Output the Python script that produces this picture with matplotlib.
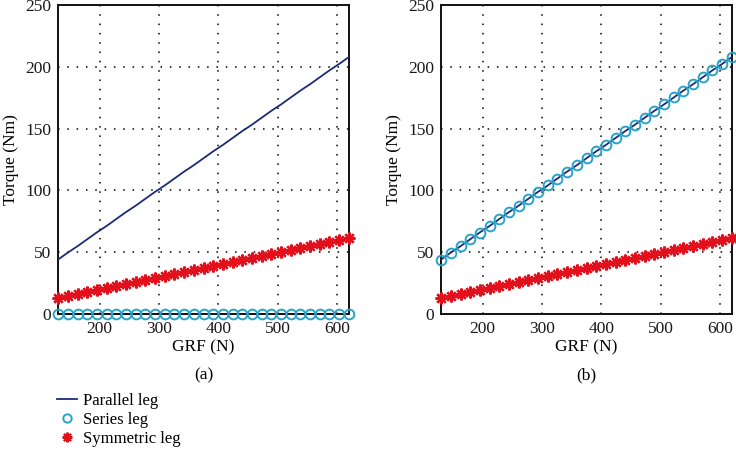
import matplotlib
matplotlib.use("Agg")
import matplotlib.pyplot as plt
from matplotlib.lines import Line2D

plt.rcParams['font.family'] = ['Liberation Serif', 'DejaVu Serif']

grf = [130, 146, 163, 179, 195, 212, 228, 244, 261, 277, 293, 310, 326, 342, 359,
       375, 391, 408, 424, 440, 457, 473, 489, 506, 522, 538, 555, 571, 587, 604, 620]
parallel = [44.0, 49.5, 54.9, 60.4, 65.9, 71.3, 76.8, 82.3, 87.7, 93.2, 98.7, 104.1,
            109.6, 115.1, 120.5, 126.0, 131.5, 136.9, 142.4, 147.9, 153.3, 158.8,
            164.3, 169.7, 175.2, 180.7, 186.1, 191.6, 197.1, 202.5, 208.0]
series_a = [0.0] * 31
series_b = [44.0, 49.5, 54.9, 60.4, 65.9, 71.3, 76.8, 82.3, 87.7, 93.2, 98.7, 104.1,
            109.6, 115.1, 120.5, 126.0, 131.5, 136.9, 142.4, 147.9, 153.3, 158.8,
            164.3, 169.7, 175.2, 180.7, 186.1, 191.6, 197.1, 202.5, 208.0]
symmetric = [13.0, 14.6, 16.2, 17.9, 19.5, 21.1, 22.7, 24.3, 25.9, 27.6, 29.2, 30.8,
             32.4, 34.0, 35.6, 37.3, 38.9, 40.5, 42.1, 43.7, 45.3, 47.0, 48.6, 50.2,
             51.8, 53.4, 55.0, 56.7, 58.3, 59.9, 61.5]
xticks = [200, 300, 400, 500, 600]
yticks = [0, 50, 100, 150, 200, 250]
panel_labels = ["(a)", "(b)"]
legend_labels = ["Parallel leg", "Series leg", "Symmetric leg"]

navy = "#1c2a78"
cyan = "#2aa3c9"
red = "#e3101c"
star = (8, 2, 0)

W, H = 736, 449
fig = plt.figure(figsize=(W / 100, H / 100), dpi=100)
axA = fig.add_axes([58 / W, 1 - 314 / H, (349 - 58) / W, (314 - 5) / H])
axB = fig.add_axes([441 / W, 1 - 314 / H, (732 - 441) / W, (314 - 5) / H])

for ax, ser, lab in [(axA, series_a, panel_labels[0]), (axB, series_b, panel_labels[1])]:
    ax.set_xlim(130, 620)
    ax.set_ylim(0, 250)
    ax.set_xticks(xticks)
    ax.set_yticks(yticks)
    ax.grid(True, color='black', linestyle=(0, (1, 5.1)), linewidth=1.1)
    ax.tick_params(length=0, labelsize=12.5, pad=5, colors='#1a1a1a')
    for s in ax.spines.values():
        s.set_linewidth(1.4)
        s.set_color('#111111')
    ax.plot(grf, parallel, color=navy, linewidth=1.3, zorder=3)
    ax.plot(grf, ser, linestyle='none', marker='o', markersize=7,
            markerfacecolor='none', markeredgecolor=cyan, markeredgewidth=1.4,
            clip_on=False, zorder=4)
    ax.plot(grf, symmetric, linestyle='none', marker=star, markersize=8.5,
            markeredgecolor=red, markerfacecolor=red, markeredgewidth=1.7,
            clip_on=False, zorder=4)
    ax.set_xlabel("GRF (N)", fontsize=12.5, labelpad=2)
    ax.set_ylabel("Torque (Nm)", fontsize=12.5, labelpad=4)
    ax.text(0.5, -0.2, lab, transform=ax.transAxes, ha='center', va='center',
            fontsize=12.5)

handles = [
    Line2D([], [], color=navy, linewidth=1.3),
    Line2D([], [], linestyle='none', marker='o', markersize=6, markerfacecolor='none',
           markeredgecolor=cyan, markeredgewidth=1.4),
    Line2D([], [], linestyle='none', marker=star, markersize=7, markeredgecolor=red,
           markerfacecolor=red, markeredgewidth=1.5),
]
fig.legend(handles, legend_labels, loc='upper left',
           bbox_to_anchor=(57 / W, 1 - 393 / H), frameon=False, fontsize=12,
           handlelength=1.2, handletextpad=0.35, labelspacing=0.17, borderpad=0,
           borderaxespad=0)

fig.savefig("out.png", dpi=100)
